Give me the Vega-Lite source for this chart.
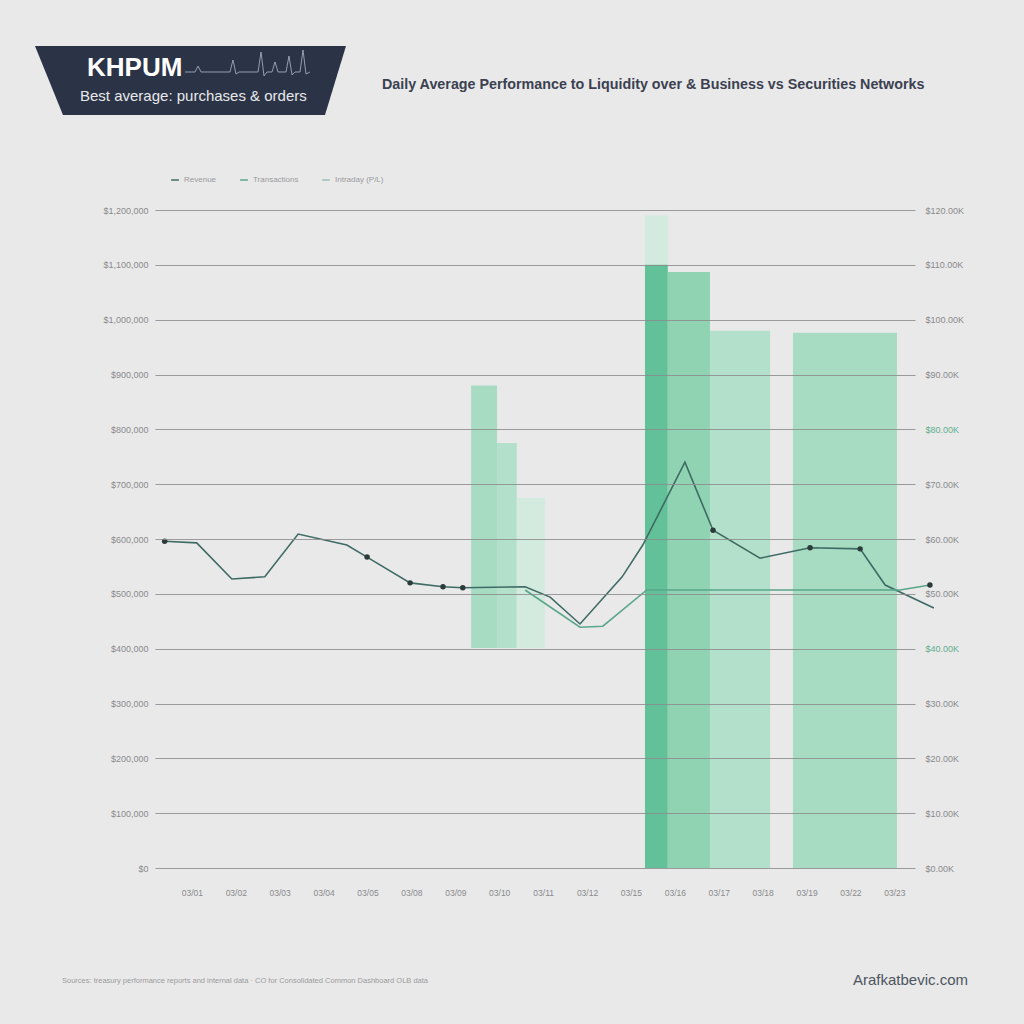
{
  "$schema": "https://vega.github.io/schema/vega-lite/v6.json",
  "autosize": {"type": "none"},
  "width": 760,
  "height": 658,
  "padding": {"left": 155, "top": 210, "right": 109, "bottom": 156},
  "background": "#e9e9ea",
  "config": {
    "view": {"stroke": null},
    "font": "Liberation Sans",
    "axis": {"domain": false, "ticks": false, "labelFont": "Liberation Sans", "labelColor": "#8a8a8a", "labelFontSize": 9, "title": null}
  },
  "datasets": {
    "bars": [
      {"start": 10.32, "end": 10.84, "low": 110000, "high": 119000, "tone": "faint"},
      {"start": 10.32, "end": 10.84, "low": 0, "high": 110000, "tone": "deep"},
      {"start": 10.84, "end": 11.80, "low": 0, "high": 108700, "tone": "mid"},
      {"start": 11.80, "end": 13.17, "low": 0, "high": 98000, "tone": "light"},
      {"start": 13.69, "end": 16.06, "low": 0, "high": 97600, "tone": "soft"},
      {"start": 6.36, "end": 6.95, "low": 40100, "high": 88000, "tone": "soft"},
      {"start": 6.95, "end": 7.40, "low": 40100, "high": 77500, "tone": "light"},
      {"start": 7.40, "end": 8.04, "low": 40100, "high": 67500, "tone": "faint"}
    ],
    "lines": [
      {"series": "Revenue", "day": -0.62, "value": 59600},
      {"series": "Revenue", "day": 0.11, "value": 59300},
      {"series": "Revenue", "day": 0.91, "value": 52700},
      {"series": "Revenue", "day": 1.66, "value": 53100},
      {"series": "Revenue", "day": 2.42, "value": 60900},
      {"series": "Revenue", "day": 3.53, "value": 58900},
      {"series": "Revenue", "day": 3.99, "value": 56700},
      {"series": "Revenue", "day": 4.97, "value": 52000},
      {"series": "Revenue", "day": 5.72, "value": 51300},
      {"series": "Revenue", "day": 6.17, "value": 51100},
      {"series": "Revenue", "day": 7.59, "value": 51300},
      {"series": "Revenue", "day": 8.16, "value": 49400},
      {"series": "Revenue", "day": 8.84, "value": 44500},
      {"series": "Revenue", "day": 9.80, "value": 53100},
      {"series": "Revenue", "day": 10.27, "value": 58900},
      {"series": "Revenue", "day": 11.23, "value": 74000},
      {"series": "Revenue", "day": 11.87, "value": 61600},
      {"series": "Revenue", "day": 12.94, "value": 56500},
      {"series": "Revenue", "day": 14.08, "value": 58400},
      {"series": "Revenue", "day": 15.22, "value": 58200},
      {"series": "Revenue", "day": 15.79, "value": 51600},
      {"series": "Revenue", "day": 16.90, "value": 47400},
      {"series": "Transactions", "day": 7.59, "value": 50700},
      {"series": "Transactions", "day": 8.84, "value": 43900},
      {"series": "Transactions", "day": 9.36, "value": 44100},
      {"series": "Transactions", "day": 10.36, "value": 50700},
      {"series": "Transactions", "day": 12.94, "value": 50700},
      {"series": "Transactions", "day": 16.13, "value": 50700},
      {"series": "Transactions", "day": 16.81, "value": 51600}
    ],
    "markers": [
      {"day": -0.62, "value": 59600},
      {"day": 3.99, "value": 56700},
      {"day": 4.97, "value": 52000},
      {"day": 5.72, "value": 51300},
      {"day": 6.17, "value": 51100},
      {"day": 11.87, "value": 61600},
      {"day": 14.08, "value": 58400},
      {"day": 15.22, "value": 58200},
      {"day": 16.81, "value": 51600}
    ],
    "wave": [
      {"px": 18.07, "py": 7.03}, {"px": 19.04, "py": 7.03}, {"px": 19.34, "py": 6.45}, {"px": 19.63, "py": 7.03},
      {"px": 22.46, "py": 7.03}, {"px": 22.75, "py": 5.86}, {"px": 23.05, "py": 7.23}, {"px": 23.34, "py": 7.03},
      {"px": 25.20, "py": 7.03}, {"px": 25.49, "py": 5.08}, {"px": 25.78, "py": 7.42}, {"px": 26.07, "py": 7.03},
      {"px": 26.56, "py": 7.03}, {"px": 26.86, "py": 6.05}, {"px": 27.15, "py": 7.03},
      {"px": 27.93, "py": 7.03}, {"px": 28.22, "py": 5.47}, {"px": 28.52, "py": 7.32}, {"px": 28.81, "py": 7.03},
      {"px": 29.30, "py": 7.03}, {"px": 29.59, "py": 4.88}, {"px": 29.88, "py": 7.23}, {"px": 30.27, "py": 7.03}
    ]
  },
  "layer": [
    {
      "data": {"name": "bars"},
      "mark": {"type": "rect"},
      "encoding": {
        "x": {"field": "start", "type": "quantitative", "scale": {"domain": [-0.84, 16.47], "nice": false, "zero": false},
          "axis": {"values": [0,1,2,3,4,5,6,7,8,9,10,11,12,13,14,15,16], "grid": false, "labelPadding": 20, "labelFontSize": 8.5, "labelFlush": false, "labelOverlap": false,
            "labelExpr": "['03/01','03/02','03/03','03/04','03/05','03/08','03/09','03/10','03/11','03/12','03/15','03/16','03/17','03/18','03/19','03/22','03/23'][datum.value]"}},
        "x2": {"field": "end"},
        "y": {"field": "high", "type": "quantitative", "scale": {"domain": [0, 120000], "nice": false, "zero": false},
          "axis": {"values": [0,10000,20000,30000,40000,50000,60000,70000,80000,90000,100000,110000,120000], "grid": true, "gridColor": "#8c8c8c", "gridOpacity": 0.85, "zindex": 1, "labelPadding": 7,
            "labelExpr": "format(datum.value * 10, '$,')"}},
        "y2": {"field": "low"},
        "color": {"field": "tone", "type": "nominal", "legend": null,
          "scale": {"domain": ["deep", "mid", "light", "soft", "faint"], "range": ["#62c198", "#8fd3b3", "#b3e0ca", "#a7dbc2", "#d2ebde"]}}
      }
    },
    {
      "data": {"name": "lines"},
      "mark": {"type": "line", "strokeWidth": 1.6},
      "encoding": {
        "x": {"field": "day", "type": "quantitative", "scale": {"domain": [-0.84, 16.47], "nice": false, "zero": false}, "axis": null},
        "y": {"field": "value", "type": "quantitative", "scale": {"domain": [0, 120000], "nice": false, "zero": false},
          "axis": {"orient": "right", "values": [0,10000,20000,30000,40000,50000,60000,70000,80000,90000,100000,110000,120000], "grid": false, "labelPadding": 10,
            "labelColor": {"condition": {"test": "datum.value == 80000 || datum.value == 40000", "value": "#5fae8c"}, "value": "#8a8a8a"},
            "labelExpr": "'$' + format(datum.value / 1000, ',.2f') + 'K'"}},
        "color": {"field": "series", "type": "nominal",
          "scale": {"domain": ["Revenue", "Transactions", "Intraday (P/L)"], "range": ["#3f6b64", "#5aa68b", "#9bbfb4"]},
          "legend": {"orient": "none", "legendX": 15, "legendY": -35, "direction": "horizontal", "columns": 3, "title": null, "labelFontSize": 8, "labelColor": "#9a9a9a", "symbolSize": 60, "symbolStrokeWidth": 1.5, "columnPadding": 20}}
      }
    },
    {
      "data": {"name": "markers"},
      "mark": {"type": "point", "filled": true, "color": "#2c3a3a", "size": 30, "opacity": 1},
      "encoding": {
        "x": {"field": "day", "type": "quantitative", "scale": {"domain": [-0.84, 16.47], "nice": false, "zero": false}, "axis": null},
        "y": {"field": "value", "type": "quantitative", "scale": {"domain": [0, 120000], "nice": false, "zero": false}, "axis": null}
      }
    },
    {
      "data": {"values": [{"py": 4.492, "left": 3.418, "right": 33.789}, {"py": 11.23, "left": 6.152, "right": 31.738}]},
      "mark": {"type": "area", "orient": "horizontal", "color": "#2b3447"},
      "encoding": {
        "y": {"field": "py", "type": "quantitative", "scale": {"domain": [20.508, 84.766], "reverse": true, "nice": false, "zero": false}, "axis": null},
        "x": {"field": "left", "type": "quantitative", "scale": {"domain": [15.137, 89.355], "nice": false, "zero": false}, "axis": null},
        "x2": {"field": "right"}
      }
    },
    {
      "data": {"name": "wave"},
      "mark": {"type": "line", "color": "#a7afc0", "strokeWidth": 1, "opacity": 0.85},
      "encoding": {
        "x": {"field": "px", "type": "quantitative", "scale": {"domain": [15.137, 89.355], "nice": false, "zero": false}, "axis": null},
        "y": {"field": "py", "type": "quantitative", "scale": {"domain": [20.508, 84.766], "reverse": true, "nice": false, "zero": false}, "axis": null}
      }
    },
    {
      "data": {"values": [{"px": 8.496, "py": 7.422, "label": "KHPUM"}]},
      "mark": {"type": "text", "align": "left", "baseline": "alphabetic", "font": "Liberation Sans", "fontWeight": "bold", "fontSize": 26, "color": "#ffffff"},
      "encoding": {
        "x": {"field": "px", "type": "quantitative", "scale": {"domain": [15.137, 89.355], "nice": false, "zero": false}, "axis": null},
        "y": {"field": "py", "type": "quantitative", "scale": {"domain": [20.508, 84.766], "reverse": true, "nice": false, "zero": false}, "axis": null},
        "text": {"field": "label"}
      }
    },
    {
      "data": {"values": [{"px": 7.8125, "py": 9.863, "label": "Best average: purchases & orders"}]},
      "mark": {"type": "text", "align": "left", "baseline": "alphabetic", "font": "Liberation Sans", "fontSize": 15, "color": "#e8e8ea"},
      "encoding": {
        "x": {"field": "px", "type": "quantitative", "scale": {"domain": [15.137, 89.355], "nice": false, "zero": false}, "axis": null},
        "y": {"field": "py", "type": "quantitative", "scale": {"domain": [20.508, 84.766], "reverse": true, "nice": false, "zero": false}, "axis": null},
        "text": {"field": "label"}
      }
    },
    {
      "data": {"values": [{"px": 37.305, "py": 8.691, "label": "Daily Average Performance to Liquidity over & Business vs Securities Networks"}]},
      "mark": {"type": "text", "align": "left", "baseline": "alphabetic", "font": "Liberation Sans", "fontWeight": "bold", "fontSize": 14.3, "color": "#3b4150"},
      "encoding": {
        "x": {"field": "px", "type": "quantitative", "scale": {"domain": [15.137, 89.355], "nice": false, "zero": false}, "axis": null},
        "y": {"field": "py", "type": "quantitative", "scale": {"domain": [20.508, 84.766], "reverse": true, "nice": false, "zero": false}, "axis": null},
        "text": {"field": "label"}
      }
    },
    {
      "data": {"values": [{"px": 6.055, "py": 95.8, "label": "Sources: treasury performance reports and internal data · CO for Consolidated Common Dashboard OLB data"}]},
      "mark": {"type": "text", "align": "left", "baseline": "middle", "font": "Liberation Sans", "fontSize": 7.5, "color": "#9b9b9b"},
      "encoding": {
        "x": {"field": "px", "type": "quantitative", "scale": {"domain": [15.137, 89.355], "nice": false, "zero": false}, "axis": null},
        "y": {"field": "py", "type": "quantitative", "scale": {"domain": [20.508, 84.766], "reverse": true, "nice": false, "zero": false}, "axis": null},
        "text": {"field": "label"}
      }
    },
    {
      "data": {"values": [{"px": 83.3, "py": 95.7, "label": "Arafkatbevic.com"}]},
      "mark": {"type": "text", "align": "left", "baseline": "middle", "font": "Liberation Sans", "fontSize": 15, "color": "#4d5560"},
      "encoding": {
        "x": {"field": "px", "type": "quantitative", "scale": {"domain": [15.137, 89.355], "nice": false, "zero": false}, "axis": null},
        "y": {"field": "py", "type": "quantitative", "scale": {"domain": [20.508, 84.766], "reverse": true, "nice": false, "zero": false}, "axis": null},
        "text": {"field": "label"}
      }
    }
  ],
  "resolve": {"scale": {"x": "independent", "y": "independent", "color": "independent"}}
}
